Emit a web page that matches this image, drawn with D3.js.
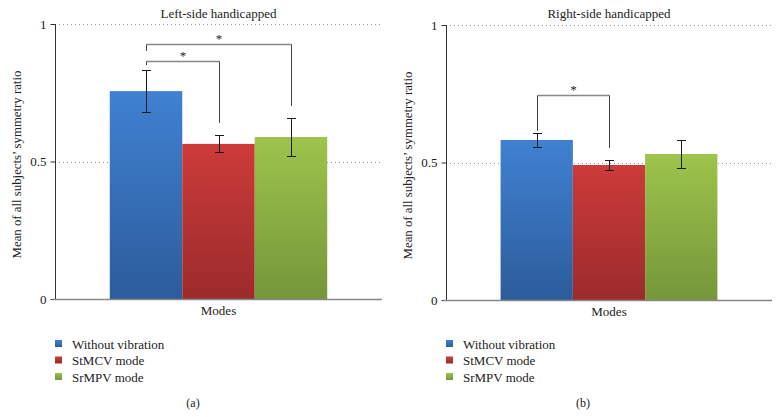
<!DOCTYPE html>
<html>
<head>
<meta charset="utf-8">
<script src="https://cdn.jsdelivr.net/npm/d3@7"></script>
<style>
  html, body { margin: 0; padding: 0; background: #fff; }
  svg { display: block; }
</style>
</head>
<body>
<svg id="chart" width="780" height="417" font-family="'Liberation Serif', 'DejaVu Serif', serif"></svg>
<script>
// ---- data ----
const seriesNames = ["Without vibration", "StMCV mode", "SrMPV mode"];
const category = ["Modes"];
const yTicks = [0, 0.5, 1];
const yTickLabels = ["0", "0.5", "1"];

const leftTitle = "Left-side handicapped";
const leftMeans = [0.756, 0.564, 0.589];
const leftErrors = [0.075, 0.031, 0.069];
// brackets: from series index, to series index, level, left end, right end (data units)
const leftBrackets = [
  { from: 0, to: 1, level: 0.865, leftEnd: 0.850, rightEnd: 0.640 },
  { from: 0, to: 2, level: 0.927, leftEnd: 0.902, rightEnd: 0.702 }
];

const rightTitle = "Right-side handicapped";
const rightMeans = [0.582, 0.491, 0.531];
const rightErrors = [0.025, 0.018, 0.051];
const rightBrackets = [
  { from: 0, to: 1, level: 0.745, leftEnd: 0.615, rightEnd: 0.553 }
];

const colorsTop = ["#4081d2", "#cc3b3a", "#9dc44c"];
const colorsBottom = ["#2c5c9b", "#9c2b2c", "#76963a"];

const FONT = "'Liberation Serif', 'DejaVu Serif', serif";

// ---- drawing ----
const svg = d3.select("#chart");
const defs = svg.append("defs");
seriesNames.forEach((s, i) => {
  const g = defs.append("linearGradient").attr("id", "grad" + i)
    .attr("x1", 0).attr("y1", 0).attr("x2", 0).attr("y2", 1);
  g.append("stop").attr("offset", "0%").attr("stop-color", colorsTop[i]);
  g.append("stop").attr("offset", "100%").attr("stop-color", colorsBottom[i]);
});

function txt(sel) {
  return sel.attr("font-family", FONT).attr("fill", "#222");
}

function drawPanel(opt) {
  const { x0, x1, yTop, yBottom, title, means, errors, brackets, tag } = opt;
  const g = svg.append("g");
  const y = d3.scaleLinear().domain([0, 1]).range([yBottom, yTop]);
  const xOuter = d3.scaleBand().domain(category).range([x0, x1]).paddingOuter(0);
  const plotW = x1 - x0;
  const groupW = plotW * 0.665;
  const gx0 = x0 + (plotW - groupW) / 2;
  const xInner = d3.scaleBand().domain(d3.range(seriesNames.length))
    .range([gx0, gx0 + groupW]).padding(0);

  // gridlines
  g.selectAll("line.grid").data(yTicks.filter(d => d > 0)).join("line")
    .attr("x1", x0 + 4).attr("x2", x1)
    .attr("y1", d => Math.round(y(d)) + 0.5).attr("y2", d => Math.round(y(d)) + 0.5)
    .attr("stroke", "#999").attr("stroke-width", 1).attr("stroke-dasharray", "1,3");

  // bars
  g.selectAll("rect.bar").data(means).join("rect")
    .attr("x", (d, i) => xInner(i)).attr("width", xInner.bandwidth())
    .attr("y", d => y(d)).attr("height", d => y(0) - y(d))
    .attr("fill", (d, i) => `url(#grad${i})`);

  // error bars
  const cap = 4.5;
  means.forEach((m, i) => {
    const cx = Math.round(xInner(i) + xInner.bandwidth() / 2) + 0.5;
    const e = errors[i];
    g.append("line").attr("x1", cx).attr("x2", cx).attr("y1", y(m + e)).attr("y2", y(m - e))
      .attr("stroke", "#1a1a1a").attr("stroke-width", 1);
    [m + e, m - e].forEach(v => {
      g.append("line").attr("x1", cx - cap).attr("x2", cx + cap)
        .attr("y1", Math.round(y(v)) + 0.5).attr("y2", Math.round(y(v)) + 0.5)
        .attr("stroke", "#1a1a1a").attr("stroke-width", 1);
    });
  });

  // significance brackets
  brackets.forEach(b => {
    const xa = Math.round(xInner(b.from) + xInner.bandwidth() / 2) + 0.5;
    const xb = Math.round(xInner(b.to) + xInner.bandwidth() / 2) + 0.5;
    const yl = Math.round(y(b.level)) + 0.5;
    g.append("line").attr("x1", xa).attr("x2", xb).attr("y1", yl).attr("y2", yl)
      .attr("stroke", "#888").attr("stroke-width", 1.5);
    g.append("line").attr("x1", xa).attr("x2", xa).attr("y1", yl).attr("y2", y(b.leftEnd))
      .attr("stroke", "#444").attr("stroke-width", 1);
    g.append("line").attr("x1", xb).attr("x2", xb).attr("y1", yl).attr("y2", y(b.rightEnd))
      .attr("stroke", "#444").attr("stroke-width", 1);
    txt(g.append("text")).attr("x", (xa + xb) / 2).attr("y", yl - 2)
      .attr("text-anchor", "middle").attr("font-size", 13).text("*");
  });

  // y axis
  const yAxis = d3.axisLeft(y).tickValues(yTicks).tickFormat((d, i) => yTickLabels[i])
    .tickSize(5).tickPadding(4);
  const ya = g.append("g").attr("transform", `translate(${x0 + 0.5},0)`).call(yAxis)
    .attr("font-family", FONT).attr("font-size", 13);
  ya.select(".domain").attr("stroke", "#333").attr("d", `M0,${y(1)}V${y(0)}`);
  ya.selectAll(".tick line").attr("stroke", "#333");
  ya.selectAll(".tick text").attr("fill", "#222");

  // x axis
  const xAxis = d3.axisBottom(xOuter).tickSize(0).tickFormat(() => "");
  const xa = g.append("g").attr("transform", `translate(0,${Math.round(y(0)) + 0.5})`).call(xAxis);
  xa.select(".domain").attr("stroke", "#888").attr("stroke-width", 1.5).attr("d", `M${x0 - 3},0H${x1}`);
  txt(g.append("text")).attr("x", (x0 + x1) / 2).attr("y", y(0) + 16)
    .attr("text-anchor", "middle").attr("font-size", 13).text(category[0]);

  // title
  txt(g.append("text")).attr("x", (x0 + x1) / 2).attr("y", 18)
    .attr("text-anchor", "middle").attr("font-size", 13).text(title);

  // y label
  txt(g.append("text")).attr("transform", `translate(${x0 - 34},${(y(0) + y(1)) / 2 + 3}) rotate(-90)`)
    .attr("text-anchor", "middle").attr("font-size", 12.8).text("Mean of all subjects\u2019 symmetry ratio");

  // legend
  const leg = g.append("g").attr("transform", `translate(${x0},344)`);
  seriesNames.forEach((s, i) => {
    leg.append("rect").attr("x", 0).attr("y", i * 16.5 - 4).attr("width", 7).attr("height", 7)
      .attr("fill", `url(#grad${i})`);
    txt(leg.append("text")).attr("x", 17).attr("y", i * 16.5 + 4.5).attr("font-size", 13).text(s);
  });

  // panel tag
  txt(g.append("text")).attr("x", opt.tagX).attr("y", 407).attr("text-anchor", "middle")
    .attr("font-size", 12).text(tag);
}

drawPanel({ x0: 55, x1: 382, yTop: 24, yBottom: 299, title: leftTitle, means: leftMeans,
  errors: leftErrors, brackets: leftBrackets, tag: "(a)", tagX: 193 });
drawPanel({ x0: 446, x1: 772, yTop: 25, yBottom: 300, title: rightTitle, means: rightMeans,
  errors: rightErrors, brackets: rightBrackets, tag: "(b)", tagX: 583 });
</script>
</body>
</html>
